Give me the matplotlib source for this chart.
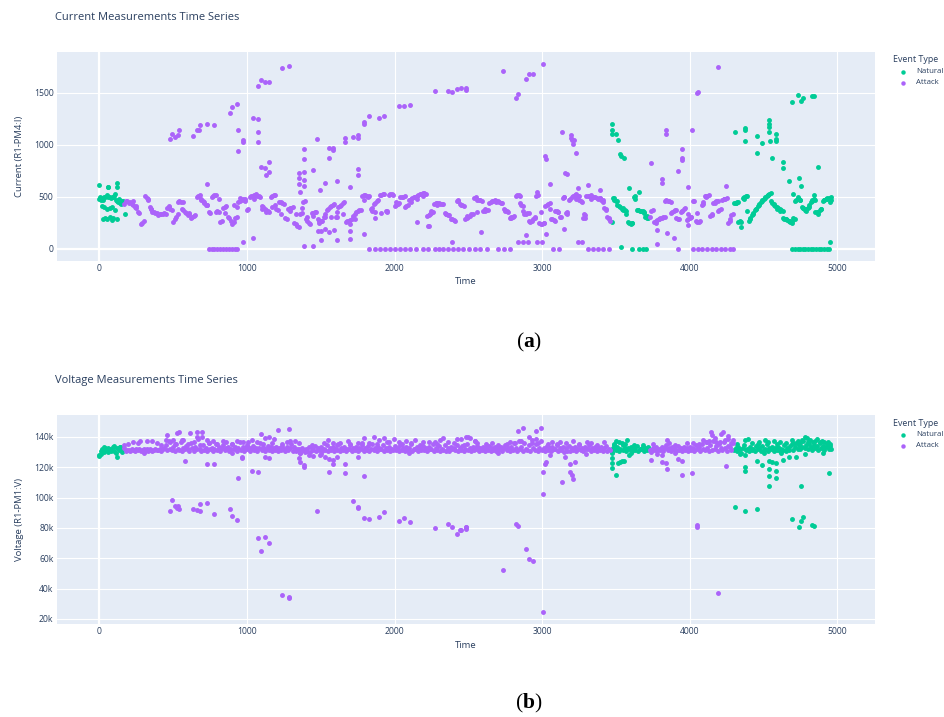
import numpy as np
import matplotlib
matplotlib.use("Agg")
import matplotlib.pyplot as plt
from matplotlib.lines import Line2D
from matplotlib.ticker import FuncFormatter

plt.rcParams['font.family'] = ['Open Sans', 'DejaVu Sans']
plt.rcParams['mathtext.fontset'] = 'custom'
plt.rcParams['mathtext.rm'] = 'Liberation Serif'
plt.rcParams['mathtext.bf'] = 'Liberation Serif:bold'

GREEN = '#00CC96'
PURPLE = '#AB63FA'
BG = '#E5ECF6'
INK = '#2a3f5f'

# time ranges labelled Natural, everything else is Attack
natural_spans = [(0, 165), (3465, 3725), (4295, 4970)]

# ---- current (R1-PM4:I): main sawtooth band, one value every 10 time steps
cur_band_step = 10
cur_band = [
    480, 485, 490, 495, 500, 505, 500, 495, 490, 500,
    510, 470, 455, 460, 450, 445, 440, 430, 460, 455,
    440, 450, 430, 420, 400, 390, 350, 345, 235, 250,
    265, 505, 490, 470, 400, 380, 355, 350, 345, 340,
    320, 330, 335, 330, 340, 335, 390, 400, 385, 370,
    260, 280, 300, 450, 460, 445, 380, 370, 355, 345,
    320, 330, 290, 300, 310, 320, 500, 510, 515, 470,
    460, 440, 420, 415, 350, 340, 500, 510, 520, 515,
    360, 350, 260, 270, 390, 400, 410, 300, 290, 270,
    240, 260, 290, 300, 450, 460, 470, 480, 470, 475,
    370, 380, 500, 505, 510, 520, 525, 510, 505, 500,
    410, 400, 380, 370, 360, 355, 500, 510, 520, 515,
    380, 370, 450, 445, 440, 430, 290, 280, 380, 390,
    390, 400, 250, 240, 220, 210, 330, 340, 450, 460,
    280, 270, 250, 240, 340, 345, 350, 355, 280, 270,
    265, 270, 300, 305, 370, 385, 400, 410, 420, 430,
    300, 305, 400, 410, 420, 440, 445, 260, 265, 270,
    275, 280, 310, 330, 350, 360, 370, 375, 510, 520,
    515, 510, 500, 505, 380, 390, 430, 440, 460, 470,
    515, 520, 525, 528, 360, 365, 520, 525, 525, 520,
    410, 420, 430, 440, 495, 500, 500, 505, 410, 415,
    470, 480, 490, 495, 500, 510, 520, 525, 525, 530,
    530, 525, 310, 320, 330, 340, 350, 430, 435, 440,
    435, 430, 430, 425, 340, 335, 325, 320, 285, 280,
    275, 270, 455, 460, 430, 420, 415, 410, 285, 290,
    300, 310, 330, 335, 490, 495, 470, 465, 465, 460,
    360, 365, 370, 375, 440, 445, 455, 460, 465, 460,
    455, 450, 440, 435, 380, 375, 360, 350, 290, 295,
    305, 310, 510, 515, 515, 510, 420, 410, 330, 335,
    340, 345, 260, 270, 285, 290, 510, 515, 245, 240,
    240, 245, 410, 420, 430, 440, 280, 285, 275, 270,
    360, 355, 300, 305, 490, 500, 345, 350, 470, 480,
    500, 505, 520, 525, 510, 505, 455, 450, 290, 295,
    505, 510, 510, 515, 500, 500, 495, 490, 480, 485,
    470, 465, 390, 380, 300, 290, 265, 260, 490, 485,
    460, 455, 410, 400, 380, 375, 370, 365, 260, 250,
    240, 245, 500, 510, 370, 375, 365, 360, 360, 355,
    300, 295, 290, 300, 365, 370, 260, 265, 275, 280,
    290, 295, 300, 305, 470, 460, 455, 450, 350, 360,
    370, 375, 280, 285, 350, 360, 380, 390, 275, 280,
    290, 300, 460, 455, 265, 260, 260, 265, 420, 430,
    505, 510, 510, 515, 315, 320, 440, 450, 455, 460,
    370, 380, 470, 475, 480, 485, 250, 270, 320, 330,
    435, 440, 445, 450, 270, 260, 490, 500, 505, 510,
    270, 280, 320, 335, 370, 380, 410, 420, 450, 460,
    480, 490, 510, 515, 525, 530, 440, 430, 410, 400,
    390, 380, 370, 365, 285, 280, 275, 270, 260, 265,
    290, 280, 470, 475, 480, 470, 400, 390, 375, 380,
    395, 400, 450, 455, 480, 470, 350, 355, 370, 380,
    460, 465, 480, 485, 490, 480, 470,
]

cur_attack_pts = [
    (230, 455), (250, 410), (330, 480), (350, 380), (470, 410), (530, 330), (570, 450),
    (610, 340), (690, 480), (710, 450), (730, 415), (790, 350), (810, 480), (850, 340),
    (910, 420), (930, 400), (950, 490), (990, 460), (1050, 480), (1100, 385), (1130, 350),
    (1170, 400), (1190, 420), (1230, 330), (1290, 360), (1330, 330), (1370, 390), (1410, 300),
    (1450, 310), (1490, 250), (1530, 330), (1570, 300), (1610, 350), (1650, 330), (1700, 240),
    (1730, 280), (1790, 470), (1850, 360), (1870, 350), (1910, 340), (1950, 350), (2010, 450),
    (2070, 400), (2110, 450), (2150, 480), (2190, 510), (2250, 360), (2290, 420), (2350, 330),
    (2430, 470), (2490, 310), (2560, 350), (2610, 380), (2690, 445), (2750, 360), (2790, 300),
    (2850, 440), (2870, 360), (2910, 270), (2950, 300), (2990, 350), (3010, 250), (3050, 380),
    (3090, 360), (3110, 350), (3150, 500), (3170, 330), (3230, 480), (3250, 470), (3290, 320),
    (3330, 480), (3390, 490), (3410, 450), (3430, 370), (3450, 280), (3770, 250), (3790, 280),
    (3830, 460), (3870, 340), (3910, 290), (3950, 360), (3990, 330), (4010, 300), (4050, 340),
    (4090, 450), (4110, 500), (4150, 330), (4170, 440), (4190, 360), (4230, 480), (4270, 280),
    (479, 1058), (490, 1106), (513, 1074), (535, 1090), (542, 1138), (637, 1083), (659, 1138),
    (682, 1186), (675, 1138), (727, 1202), (779, 1189), (885, 1304), (901, 1362), (930, 1394),
    (939, 1138), (939, 939), (971, 1022), (975, 1042), (727, 618), (1039, 1259), (1073, 1250),
    (1073, 1122), (1077, 1022), (1073, 1564), (1093, 1618), (1122, 1606), (1151, 1606),
    (1235, 1740), (1287, 1753), (1095, 788), (1122, 775), (1127, 705), (1151, 830), (1151, 737),
    (975, 64), (1039, 106), (1352, 731), (1352, 680), (1352, 625), (1359, 545), (1386, 961),
    (1386, 865), (1386, 737), (1386, 657), (1386, 603), (1386, 25), (1445, 22), (1445, 753),
    (1476, 1054), (1494, 567), (1528, 631), (1558, 971), (1580, 945), (1585, 971), (1558, 875),
    (1608, 650), (1608, 80), (1502, 167), (1502, 80), (1558, 160), (1592, 182), (1664, 1067),
    (1664, 1022), (1720, 1074), (1750, 1093), (1750, 1067), (1750, 769), (1750, 708),
    (1698, 593), (1698, 167), (1698, 90), (1795, 1218), (1795, 1202), (1829, 1275),
    (1897, 1259), (1931, 1272), (1795, 138), (2030, 1368), (2066, 1368), (2104, 1378),
    (2150, 253), (2228, 215), (2274, 1519), (2364, 1519), (2391, 1509), (2420, 1532),
    (2450, 1541), (2484, 1545), (2484, 1529), (2391, 64), (2738, 1708), (2823, 1452),
    (2839, 1490), (2889, 1634), (2914, 1676), (2941, 1676), (3009, 1772), (3020, 891),
    (3024, 859), (3054, 625), (3133, 1125), (3196, 1096), (3196, 1067), (3205, 1048),
    (3219, 1048), (3212, 1010), (3228, 923), (3155, 727), (3167, 721), (3313, 609),
    (3392, 567), (3245, 583), (2963, 545), (2584, 160), (2891, 128), (3151, 192), (2839, 64),
    (2873, 64), (2907, 64), (2963, 64), (2997, 64), (3027, 138), (3245, 64), (3268, 64),
    (3738, 824), (3810, 673), (3810, 634), (3839, 1144), (3839, 1106), (3776, 183), (3776, 42),
    (3844, 154), (3896, 103), (3918, 747), (3950, 961), (3950, 875), (3950, 856), (3986, 593),
    (3986, 224), (4013, 1138), (4052, 1500), (4054, 1506), (4194, 1747), (4244, 606),
    (1484, 166), (1529, 185), (1868, 294), (2234, 214), (3286, 336),
]
cur_attack_zero_t = [
    740, 760, 780, 800, 820, 840, 860, 880, 900, 920, 935,
    1829, 1868, 1901, 1935, 1969, 2003, 2037, 2071, 2104, 2145, 2190, 2228, 2274, 2303,
    2330, 2364, 2398, 2432, 2466, 2506, 2545, 2578, 2625, 2704, 2742, 2783,
    3076, 3115, 3313, 3347, 3381, 3415, 3450, 3923,
    4024, 4055, 4086, 4117, 4148, 4179, 4210, 4241, 4272, 4296,
]
cur_natural_pts = [
    (0, 609), (5, 496), (27, 471), (61, 591), (122, 634), (122, 592), (27, 282), (54, 282),
    (72, 304), (84, 272), (117, 288), (32, 400), (54, 384), (84, 400), (106, 375), (54, 513),
    (106, 522), (57, 593), (174, 330), (40, 290), (95, 295), (20, 410), (70, 395), (10, 470),
    (90, 500), (130, 470), (140, 440), (150, 460), (160, 455), (125, 445), (135, 475), (145, 430),
    (3476, 1195), (3476, 1138), (3476, 1099), (3499, 1099), (3517, 1048), (3528, 913),
    (3535, 891), (3557, 875), (3589, 583), (3659, 545), (3535, 16),
    (3490, 470), (3510, 420), (3550, 390), (3570, 330), (3610, 250), (3630, 480), (3650, 375),
    (3690, 340), (3710, 310), (4310, 440), (4330, 260), (4350, 210), (4370, 480), (4390, 360),
    (4410, 290), (4430, 340), (4450, 380), (4470, 430), (4490, 470), (4510, 500), (4530, 520),
    (4550, 460), (4570, 420), (4590, 380), (4610, 360), (4630, 290), (4650, 280), (4670, 270),
    (4690, 250), (4710, 460), (4730, 500), (4750, 470), (4770, 390), (4790, 360), (4810, 420),
    (4830, 470), (4850, 350), (4870, 330), (4890, 380), (4910, 470), (4930, 480), (4950, 450),
    (4960, 500),
    (4309, 1125), (4375, 1163), (4375, 1144), (4375, 1035), (4454, 1080), (4458, 920),
    (4488, 1019), (4540, 1240), (4540, 1202), (4540, 1170), (4537, 1125), (4544, 1035),
    (4555, 872), (4585, 1099), (4585, 1058), (4585, 1035), (4634, 830), (4634, 776),
    (4673, 647), (4695, 1410), (4736, 1474), (4752, 1420), (4770, 1452), (4826, 1468),
    (4844, 1471), (4740, 676), (4752, 599), (4867, 788), (4697, 529), (4844, 519), (4950, 64),
]
cur_natural_zero_t = [
    3607, 3659, 3681, 3702, 4695, 4712, 4730, 4748, 4766, 4784, 4802, 4820, 4838, 4856,
    4874, 4892, 4910, 4928, 4946,
]

# ---- voltage (R1-PM1:V) in kV: main band, one value every 10 time steps
volt_band_step = 10
volt_band = [
    128.0, 130.5, 131.8, 130.2, 133.0, 131.5, 129.8, 132.4, 130.9, 133.2, 131.0, 129.5, 132.6, 131.4, 133.5, 130.3, 131.9, 132.8, 130.8, 131.6,
    131.2, 130.6, 132.0, 131.4, 130.8, 131.9, 131.1, 132.3, 130.9, 131.6, 132.1, 131.0, 131.8, 130.7, 132.4, 131.3, 130.9, 131.7, 132.2, 131.1,
    131.5, 132.3, 130.8, 131.9, 132.6, 134.8, 131.2, 137.6, 132.0, 131.4, 133.1, 130.9, 135.5, 132.2, 131.3, 136.8, 130.7, 132.5, 131.8, 134.2,
    132.1, 131.0, 135.9, 132.7, 130.6, 133.4, 131.8, 138.4, 132.2, 130.9, 134.6, 131.5, 132.8, 130.5, 136.3, 131.9, 133.0, 130.8, 132.4, 135.1,
    131.6, 133.2, 130.9, 132.5, 134.9, 131.3, 132.8, 133.6, 130.7, 132.1, 135.6, 131.8, 133.3, 130.6, 132.7, 136.4, 131.2, 133.1, 130.5, 132.9,
    131.9, 133.5, 130.8, 132.6, 134.3, 131.4, 133.0, 130.6, 132.5, 135.8, 131.7, 133.2, 130.9, 132.4, 134.1, 131.2, 133.6, 130.7, 132.8, 131.5,
    133.4, 130.8, 132.6, 131.3, 134.0, 132.1, 130.7, 133.2, 131.6, 132.9, 135.2, 131.0, 133.5, 130.9, 132.4, 131.8, 129.6, 133.0, 131.2, 130.4,
    132.3, 131.0, 133.1, 129.9, 132.5, 131.4, 134.2, 130.8, 132.7, 131.2, 133.6, 130.5, 132.0, 131.7, 134.8, 130.9, 132.6, 131.3, 133.2, 130.7,
    132.4, 131.1, 135.3, 130.8, 132.9, 131.5, 133.7, 130.6, 132.2, 131.9, 134.5, 130.9, 132.7, 131.3, 133.4, 130.7, 132.5, 131.8, 134.9, 131.0,
    132.6, 131.2, 133.8, 130.8, 132.3, 135.6, 131.5, 132.9, 130.7, 133.5, 131.8, 132.4, 134.7, 130.9, 132.8, 131.4, 133.6, 130.6, 132.2, 131.7,
    133.9, 131.1, 132.5, 130.8, 134.6, 131.6, 132.9, 130.7, 133.4, 131.3, 132.7, 135.1, 130.9, 132.3, 131.8, 133.7, 130.6, 132.6, 131.2, 134.3,
    131.5, 132.8, 130.7, 133.3, 131.9, 132.4, 135.7, 130.8, 132.6, 131.4, 133.8, 130.9, 132.2, 131.7, 134.4, 131.0, 132.9, 130.6, 133.5, 131.8,
    132.5, 131.2, 134.8, 130.8, 132.7, 131.6, 133.9, 130.7, 132.3, 135.2, 131.4, 132.8, 130.9, 133.4, 131.7, 132.2, 134.1, 130.8, 132.6, 131.3,
    133.2, 130.9, 132.5, 131.5, 134.3, 130.7, 132.8, 131.2, 133.6, 130.8, 132.4, 131.9, 133.1, 130.6, 132.7, 134.5, 131.3, 132.9, 130.8, 133.7,
    131.4, 135.8, 132.6, 130.7, 137.2, 131.9, 133.4, 130.8, 136.1, 132.3, 131.2, 134.6, 130.6, 138.3, 132.8, 131.5, 135.4, 130.9, 133.0, 137.5,
    131.6, 132.9, 130.5, 134.2, 131.3, 132.6, 130.8, 133.5, 131.9, 132.4, 134.8, 130.7, 132.7, 131.4, 133.3, 129.8, 132.5, 131.0, 134.1, 130.9,
    132.6, 131.5, 133.7, 130.8, 132.3, 135.0, 131.2, 132.8, 130.7, 133.6, 131.8, 132.4, 134.5, 130.9, 132.7, 131.3, 133.4, 130.6, 132.9, 131.7,
    133.2, 131.0, 132.6, 134.1, 130.8, 132.4, 131.5, 130.2, 132.8, 134.5, 131.3, 133.6, 130.9, 132.2, 135.8, 131.7, 133.0, 130.6, 132.5, 131.9,
    133.4, 130.8, 132.7, 131.4, 134.2, 130.9, 132.3, 131.8, 133.6, 130.7, 132.5, 131.2, 133.1, 131.6, 130.4, 132.8, 131.1, 133.5, 130.7, 132.2,
    131.5, 133.2, 130.8, 132.6, 134.8, 131.3, 132.9, 130.6, 133.4, 131.9, 132.3, 130.9, 134.1, 131.6, 132.7, 130.8, 133.3, 131.2, 132.5, 131.0,
    133.6, 131.2, 132.8, 130.7, 134.4, 131.8, 133.1, 130.9, 135.6, 132.4, 131.3, 136.8, 132.9, 130.8, 134.7, 131.6, 137.4, 132.2, 133.8, 131.0,
    135.3, 132.5, 131.4, 136.6, 132.8, 130.9, 134.2, 133.5, 131.7, 136.1, 131.3, 132.8, 130.6, 133.7, 131.9, 129.4, 132.6, 134.9, 131.2, 132.3,
    130.8, 133.5, 131.6, 132.4, 130.5, 134.3, 131.9, 132.7, 130.9, 133.8, 131.4, 132.2, 135.4, 130.7, 132.6, 131.8, 133.4, 130.6, 132.9, 131.3,
    133.7, 130.9, 132.4, 131.6, 134.6, 130.8, 132.8, 131.2, 133.9, 135.3, 131.5, 133.1, 136.2, 132.3, 134.4, 131.8, 133.6, 137.1, 132.7, 134.8,
    132.2, 135.6, 133.3, 131.4, 134.7, 132.6, 133.9, 131.7, 136.4, 132.9, 134.1, 131.5, 133.6, 135.2, 132.4, 133.8, 131.9,
]

volt_attack_pts = [
    (580, 124.2), (727, 122.0), (777, 122.0), (777, 89.0), (942, 112.8), (1036, 117.8),
    (1073, 117.2), (479, 91.5), (490, 98.5), (513, 94.8), (524, 93.0), (535, 94.8), (540, 92.6),
    (637, 92.6), (659, 92.0), (682, 91.3), (682, 95.6), (727, 96.7), (885, 92.3), (901, 88.2),
    (930, 85.3), (1073, 73.2), (1095, 65.1), (1122, 73.9), (1151, 69.9), (1235, 35.9),
    (1287, 34.3), (1287, 33.7), (1476, 91.5), (1720, 97.8), (1750, 94.1), (1750, 93.0),
    (1795, 86.4), (1829, 85.8), (1897, 87.1), (1931, 90.8), (2030, 84.6), (2066, 86.4),
    (2104, 83.8), (2274, 79.8), (2364, 82.7), (2391, 80.9), (2420, 76.1), (2450, 78.7),
    (2484, 80.9), (2484, 79.2),
    (1359, 129.2), (1352, 126.0), (1359, 123.8), (1386, 121.6), (1386, 120.5), (1423, 128.2),
    (1450, 127.5), (1494, 128.2), (1528, 127.0), (1558, 125.3), (1558, 117.2), (1580, 124.9),
    (1585, 122.2), (1608, 127.0), (1664, 122.2), (1664, 116.0), (1750, 127.0), (1795, 114.5),
    (1122, 127.0), (1151, 126.0), (969, 127.0), (969, 126.0),
    (456, 141.3), (524, 142.4), (540, 143.1), (614, 142.9), (659, 143.5), (698, 143.1),
    (659, 140.2), (698, 139.8), (449, 138.0), (501, 138.0), (558, 138.0), (727, 138.0),
    (772, 137.4), (835, 137.4), (930, 137.6), (975, 137.0), (1036, 138.0), (1066, 137.0),
    (1095, 142.0), (1122, 139.1), (1151, 140.2), (1183, 138.9), (1208, 144.6), (1287, 145.1),
    (1291, 137.4), (1325, 137.4), (197, 135.2), (230, 137.0), (275, 137.4), (321, 137.4),
    (355, 137.4), (1551, 138.0), (1585, 135.8), (1630, 135.8), (1687, 137.4), (1754, 135.8),
    (1795, 139.3), (1829, 135.8), (1863, 139.8), (1897, 138.0), (1931, 139.1), (1964, 137.0),
    (1998, 138.7), (2030, 137.0), (2077, 137.6), (2138, 138.0), (2195, 137.0), (2274, 137.0),
    (2308, 138.0), (2330, 139.3), (2364, 137.0), (2420, 138.5), (2450, 138.7), (2484, 139.8),
    (2511, 139.1), (2545, 137.6),
    (2444, 78.7), (2485, 80.9), (2823, 82.7), (2839, 81.6), (2889, 66.0), (2914, 59.4),
    (2941, 58.5), (2738, 52.3), (3009, 24.9), (3009, 102.4), (3009, 116.7), (3020, 122.2),
    (3024, 123.8), (3054, 128.1), (3133, 110.6), (3155, 127.0), (3189, 122.2), (3189, 116.7),
    (3205, 115.0), (3212, 112.3), (3223, 123.8),
    (2839, 144.2), (2873, 146.2), (2959, 144.2), (2990, 146.2), (2914, 139.8), (2959, 138.5),
    (2500, 139.8), (2546, 137.6), (2704, 134.7), (2816, 135.8), (2975, 135.8), (3121, 137.0),
    (3212, 137.6), (3302, 137.0),
    (3738, 124.9), (3810, 128.1), (3810, 123.8), (3839, 122.7), (3844, 118.9), (3776, 128.6),
    (3918, 125.3), (3950, 124.4), (3950, 115.0), (4013, 116.5), (4052, 82.0), (4052, 80.9),
    (4194, 37.4), (4244, 120.9),
    (3844, 138.0), (4092, 138.0), (4144, 143.5), (4149, 141.3), (4171, 139.1), (4212, 142.0),
    (4228, 143.1), (4262, 140.9), (4115, 137.0), (4205, 137.0), (4262, 138.5), (4025, 135.8),
    (4296, 138.0),
    (170, 134.5), (260, 135.8), (390, 136.2), (420, 134.9), (480, 136.5), (510, 135.2),
    (570, 137.8), (600, 135.5), (640, 136.9), (680, 135.0), (740, 136.2), (800, 135.4),
    (860, 136.8), (900, 135.3), (1000, 134.9), (1010, 136.7), (1110, 135.5), (1170, 136.3),
    (1240, 135.1), (1270, 136.4), (1350, 135.9), (1440, 134.8), (1520, 136.1), (1610, 134.9),
    (1700, 135.6), (1780, 136.2), (1880, 135.3), (1950, 136.4), (2050, 135.1), (2110, 136.3),
    (2170, 135.0), (2230, 136.4), (2290, 135.2), (2400, 136.2), (2470, 135.0), (2560, 136.0),
    (2620, 135.4), (2660, 136.3), (2760, 135.1), (2780, 136.6), (2860, 137.3), (2930, 136.0),
    (3040, 135.6), (3070, 136.9), (3100, 135.4), (3160, 136.2), (3250, 135.7), (3330, 136.0),
    (3370, 134.9), (3420, 136.4), (3750, 135.2), (3860, 135.9), (3900, 134.8), (3980, 136.3),
    (4060, 135.5), (4130, 137.6), (4180, 136.4), (4240, 137.8), (4280, 135.9),
    (300, 129.5), (900, 129.3), (1500, 129.0), (2100, 129.4), (2700, 129.2), (3300, 129.1),
    (3900, 129.3),
]
volt_natural_pts = [
    (0, 127.5), (10, 129.0), (117, 126.8), (30, 133.5), (60, 133.0), (100, 133.8), (140, 133.4),
    (3476, 129.2), (3476, 126.0), (3476, 122.7), (3476, 119.8), (3499, 115.0), (3517, 123.1),
    (3528, 123.8), (3557, 124.2), (3589, 128.1), (3499, 137.4), (3573, 138.0), (3550, 134.7),
    (3540, 124.0), (3600, 129.5),
    (4309, 94.1), (4375, 91.3), (4458, 92.3), (4375, 120.0), (4375, 117.6), (4375, 128.1),
    (4458, 124.2), (4488, 121.6), (4537, 124.2), (4540, 118.7), (4540, 114.5), (4537, 107.7),
    (4555, 123.8), (4585, 122.7), (4585, 117.6), (4585, 113.2), (4634, 124.9), (4673, 127.0),
    (4720, 127.0), (4754, 107.7), (4695, 85.7), (4740, 80.9), (4754, 84.9), (4770, 87.1),
    (4826, 82.0), (4844, 81.6), (4946, 116.5),
    (4375, 138.0), (4397, 138.5), (4469, 137.0), (4510, 138.0), (4571, 137.4), (4612, 137.0),
    (4695, 138.0), (4792, 139.1), (4815, 138.0), (4837, 137.0), (4894, 137.4), (4939, 137.0),
    (4747, 136.3), (4780, 140.0), (4860, 139.0),
    (3490, 135.2), (3520, 136.4), (3560, 135.6), (3620, 135.0), (3680, 134.9), (4320, 135.6),
    (4420, 136.2), (4460, 135.1), (4530, 136.4), (4590, 135.3), (4650, 136.1), (4700, 135.9),
    (4730, 137.5), (4760, 138.2), (4800, 136.8), (4850, 137.4), (4880, 135.8), (4910, 136.9),
    (4950, 135.4), (4340, 129.0), (4500, 129.5), (4620, 129.2), (4780, 129.0), (4900, 129.6),
]


def natural_mask(t):
    t = np.asarray(t)
    m = np.zeros(len(t), dtype=bool)
    for a, b in natural_spans:
        m |= (t >= a) & (t <= b)
    return m


def collect(band, step, nat_pts, att_pts, nat_zero=(), att_zero=(), scale=1.0):
    band = np.array(band, dtype=float) * scale
    bt = np.arange(len(band)) * step
    m = natural_mask(bt)
    nt, nv = zip(*nat_pts)
    at, av = zip(*att_pts)
    nat_t = np.concatenate([bt[m], nt, nat_zero])
    nat_v = np.concatenate([band[m], np.array(nv) * scale, np.zeros(len(nat_zero))])
    att_t = np.concatenate([bt[~m], at, att_zero])
    att_v = np.concatenate([band[~m], np.array(av) * scale, np.zeros(len(att_zero))])
    return nat_t, nat_v, att_t, att_v


W, H = 945, 717
fig = plt.figure(figsize=(W / 100, H / 100), dpi=100)


def style(ax, ylim, yticks):
    ax.set_facecolor(BG)
    for s in ax.spines.values():
        s.set_visible(False)
    ax.set_xlim(-287, 5255)
    ax.set_ylim(*ylim)
    ax.set_xticks([0, 1000, 2000, 3000, 4000, 5000])
    ax.set_yticks(yticks)
    ax.grid(True, color='white', lw=0.8)
    ax.set_axisbelow(True)
    ax.tick_params(length=0, labelsize=6.2, labelcolor=INK, pad=2.5)


def legend(y_title):
    fig.text(893 / W, 1 - y_title / H, 'Event Type', fontsize=6.4, color=INK, va='center')
    for dy, lab, col in [(11.5, 'Natural', GREEN), (22.8, 'Attack', PURPLE)]:
        yy = 1 - (y_title + dy) / H
        fig.add_artist(Line2D([903 / W], [yy], marker='o', ms=3.2, color=col, mew=0,
                              transform=fig.transFigure))
        fig.text(916 / W, yy, lab, fontsize=5.6, color=INK, va='center')


sz = 12.5

# panel (a)
ax1 = fig.add_axes([57 / W, 1 - 261 / H, 818 / W, 209 / H])
style(ax1, (-119, 1890), [0, 500, 1000, 1500])
ax1.axhline(0, color='white', lw=1.6, zorder=0.6)
ax1.axvline(0, color='white', lw=1.6, zorder=0.6)
nt, nv, at, av = collect(cur_band, cur_band_step, cur_natural_pts, cur_attack_pts,
                         cur_natural_zero_t, cur_attack_zero_t)
ax1.scatter(nt, nv, s=sz, color=GREEN, linewidths=0, zorder=2)
ax1.scatter(at, av, s=sz, color=PURPLE, linewidths=0, zorder=3)
ax1.set_xlabel('Time', fontsize=6.8, color=INK)
ax1.xaxis.label.set_va('center')
ax1.xaxis.set_label_coords(0.5, -21 / 209)
ax1.set_ylabel('Current (R1-PM4:I)', fontsize=6.8, color=INK)
ax1.yaxis.label.set_va('center')
ax1.yaxis.set_label_coords(-37 / 818, 0.5)
fig.text(55 / W, 1 - 17 / H, 'Current Measurements Time Series', fontsize=8.0, color=INK, va='center')
legend(60)
fig.text(529 / W, 1 - 342 / H, r'$(\mathbf{a})$', fontsize=15.5, ha='center', va='center', color='black')

# panel (b)
ax2 = fig.add_axes([57 / W, 1 - 624 / H, 818 / W, 209 / H])
style(ax2, (16700, 154500), [20000, 40000, 60000, 80000, 100000, 120000, 140000])
ax2.yaxis.set_major_formatter(FuncFormatter(lambda v, p: f'{int(round(v / 1000))}k'))
ax2.axvline(0, color='white', lw=1.6, zorder=0.6)
nt, nv, at, av = collect(volt_band, volt_band_step, volt_natural_pts, volt_attack_pts, scale=1000.0)
ax2.scatter(nt, nv, s=sz, color=GREEN, linewidths=0, zorder=2)
ax2.scatter(at, av, s=sz, color=PURPLE, linewidths=0, zorder=3)
ax2.set_xlabel('Time', fontsize=6.8, color=INK)
ax2.xaxis.label.set_va('center')
ax2.xaxis.set_label_coords(0.5, -21 / 209)
ax2.set_ylabel('Voltage (R1-PM1:V)', fontsize=6.8, color=INK)
ax2.yaxis.label.set_va('center')
ax2.yaxis.set_label_coords(-37 / 818, 0.5)
fig.text(55 / W, 1 - 381 / H, 'Voltage Measurements Time Series', fontsize=8.0, color=INK, va='center')
legend(423)
fig.text(529 / W, 1 - 703 / H, r'$(\mathbf{b})$', fontsize=15.5, ha='center', va='center', color='black')

fig.savefig('out.png', dpi=100)
